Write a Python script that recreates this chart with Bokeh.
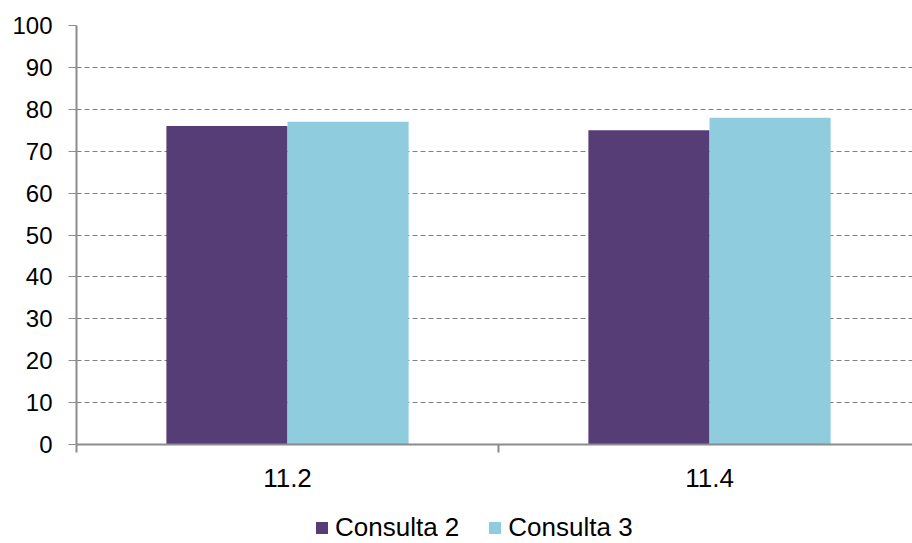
from bokeh.plotting import figure
from bokeh.layouts import column
from bokeh.models import Range1d, FixedTicker, Legend, LegendItem, ColumnDataSource
from bokeh.embed import file_html
from bokeh.resources import INLINE

categories = ["11.2", "11.4"]
series_names = ["Consulta 2", "Consulta 3"]
consulta2 = [76, 75]
consulta3 = [77, 78]
y_ticks = [0, 10, 20, 30, 40, 50, 60, 70, 80, 90, 100]

colors = ["#573D75", "#8FCCDD"]
bar_w = 0.287
FONT = "Liberation Sans"

p = figure(width=912, height=500, output_backend="svg", toolbar_location=None,
           x_range=Range1d(0, 1.981), y_range=Range1d(0, 100),
           min_border_left=76, min_border_right=0, min_border_top=25, min_border_bottom=56)
p.outline_line_color = None
p.background_fill_color = "white"

centers = [i + 0.5 for i in range(len(categories))]
s1 = ColumnDataSource(dict(x=[c - bar_w / 2 for c in centers], top=consulta2))
s2 = ColumnDataSource(dict(x=[c + bar_w / 2 for c in centers], top=consulta3))
p.vbar(x="x", top="top", bottom=0, width=bar_w, source=s1, fill_color=colors[0], line_color=None)
p.vbar(x="x", top="top", bottom=0, width=bar_w, source=s2, fill_color=colors[1], line_color=None)

# x axis
p.xaxis.ticker = FixedTicker(ticks=centers, minor_ticks=list(range(len(categories) + 1)))
p.xaxis.major_label_overrides = {c: lab for c, lab in zip(centers, categories)}
p.xaxis.major_tick_line_color = None
p.xaxis.major_tick_out = 0
p.xaxis.major_tick_in = 0
p.xaxis.minor_tick_out = 8
p.xaxis.minor_tick_in = 0
p.xaxis.minor_tick_line_color = "#8C8C8C"
p.xaxis.minor_tick_line_width = 2
p.xaxis.axis_line_color = "#8C8C8C"
p.xaxis.axis_line_width = 2
p.xaxis.major_label_text_font = FONT
p.xaxis.major_label_text_font_size = "26px"
p.xaxis.major_label_text_color = "#000000"
p.xaxis.major_label_standoff = 16

# y axis
p.yaxis.ticker = FixedTicker(ticks=y_ticks)
p.yaxis.major_tick_out = 8
p.yaxis.major_tick_in = 0
p.yaxis.major_tick_line_color = "#8C8C8C"
p.yaxis.minor_tick_line_color = None
p.yaxis.axis_line_color = "#8C8C8C"
p.yaxis.axis_line_width = 2
p.yaxis.major_label_text_font = FONT
p.yaxis.major_label_text_font_size = "24px"
p.yaxis.major_label_text_color = "#000000"
p.yaxis.major_label_standoff = 16

p.xgrid.grid_line_color = None
p.ygrid.grid_line_color = "#808080"
p.ygrid.grid_line_dash = "5 3"
p.ygrid.grid_line_width = 1.2

# legend strip (its bars sit outside the visible range; only the legend shows)
lg = figure(width=912, height=43, output_backend="svg", toolbar_location=None,
            x_axis_type=None, y_axis_type=None,
            x_range=Range1d(0, 1.981), y_range=Range1d(200, 300),
            min_border_left=0, min_border_right=0, min_border_top=0, min_border_bottom=0)
lg.outline_line_color = None
g1 = lg.vbar(x="x", top="top", bottom=0, width=bar_w, source=s1, fill_color=colors[0], line_color=None)
g2 = lg.vbar(x="x", top="top", bottom=0, width=bar_w, source=s2, fill_color=colors[1], line_color=None)

legend = Legend(items=[LegendItem(label=series_names[0], renderers=[g1]),
                       LegendItem(label=series_names[1], renderers=[g2])],
                orientation="horizontal", location=(238, 0),
                label_text_font=FONT, label_text_font_size="26px", label_text_color="#000000",
                glyph_width=15, glyph_height=15, label_standoff=6, spacing=28,
                border_line_color=None, background_fill_alpha=0, padding=0, margin=0)
lg.add_layout(legend, "center")

open("out.html", "w").write(file_html(column(p, lg, spacing=0), INLINE))
